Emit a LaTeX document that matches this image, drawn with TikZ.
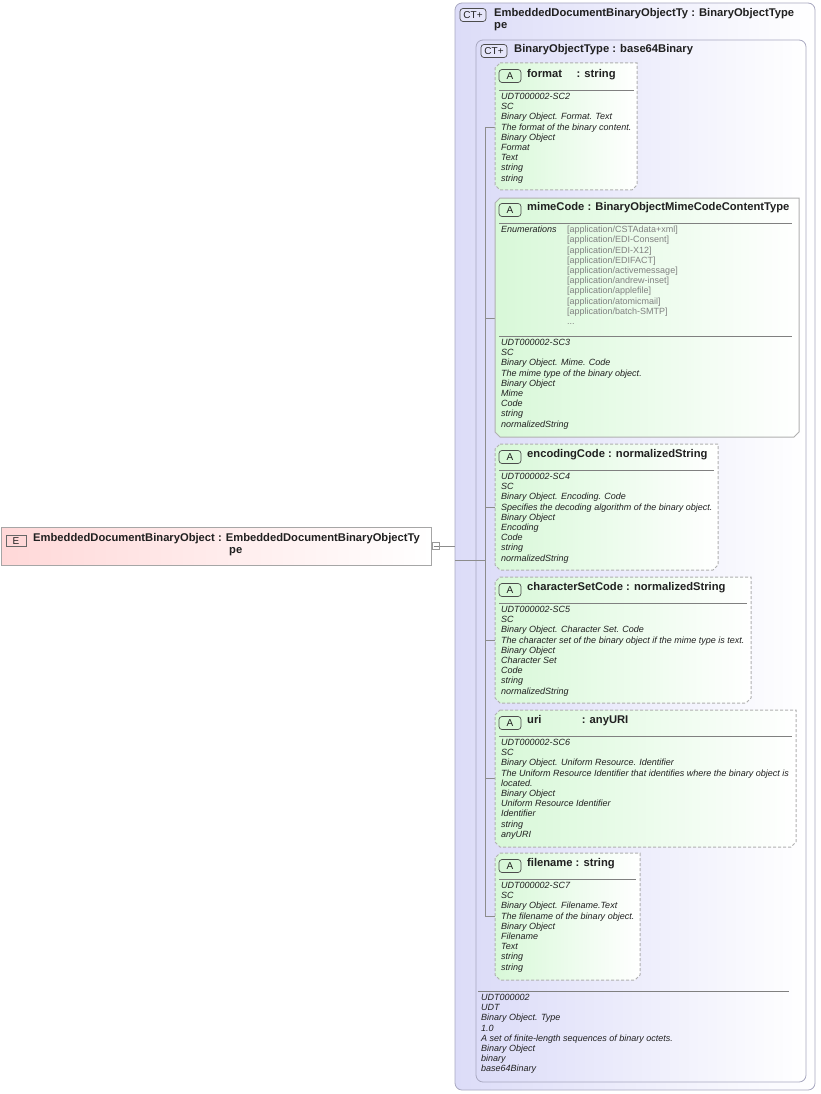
\documentclass[tikz,border=0pt]{standalone}
\usepackage{fontspec}
\setmainfont{Liberation Sans}
\usetikzlibrary{shapes.misc}
\definecolor{ctfill}{HTML}{DCDCF8}
\definecolor{ctline}{HTML}{A8A8C0}
\definecolor{afill}{HTML}{D8F8D8}
\definecolor{aline}{HTML}{B0B0B0}
\definecolor{efill}{HTML}{FFD8D8}
\definecolor{txt}{HTML}{202020}
\definecolor{enumc}{HTML}{808080}
\tikzset{
  ctbox/.style={draw=ctline,rounded corners=7pt,left color=ctfill,right color=white,line width=0.8pt},
  abox/.style={draw=aline,line width=1pt,left color=afill,right color=white},
  opt/.style={dash pattern=on 3pt off 2pt},
  hdr/.style={anchor=west,font=\fontsize{11.2}{12}\selectfont\bfseries,text=txt,inner sep=0pt},
  body/.style={anchor=north west,align=left,font=\fontsize{9}{10.2}\selectfont\itshape,text=txt,inner sep=0pt},
  enum/.style={anchor=north west,align=left,font=\fontsize{9}{10.2}\selectfont,text=enumc,inner sep=0pt},
  badge/.style={draw=black!70,rounded corners=3pt,line width=0.7pt,inner sep=0pt,minimum width=22pt,minimum height=13pt,font=\fontsize{10}{10}\selectfont,text=txt},
  conn/.style={draw=black!45,line width=0.6pt},
}
\newcommand{\attrbox}[5]{% x1 y1 x2 y2 style
  \path[abox,#5] (#1+5,#2) -- (#3,#2) -- (#3,#4-5) -- (#3-5,#4) -- (#1+5,#4) -- (#1,#4-5) -- (#1,#2+5) -- cycle;
}
\begin{document}
\begin{tikzpicture}[x=1pt,y=-1pt]
\useasboundingbox (0,0) rectangle (820,1094);
% outer CT
\path[ctbox] (455,3) rectangle (815,1090);
\node[badge,fill=ctfill!70,minimum width=26pt] (ct1) at (473,15) {CT\raisebox{0.2pt}{+}};
\node[hdr] (ct1t) at (494,14) {EmbeddedDocumentBinaryObjectTy : BinaryObjectType};
\node[hdr] at (494,27) {pe};
% inner CT
\path[ctbox] (476,40) rectangle (806,1082);
\node[badge,fill=ctfill!70,minimum width=26pt] (ct2) at (494,51) {CT\raisebox{0.2pt}{+}};
\node[hdr] (ct2t) at (514,50) {BinaryObjectType : base64Binary};
% element
\path[draw=black!35,line width=0.8pt,left color=efill,right color=white] (1,527) rectangle (431,565);
\node[badge,fill=efill,draw=black!60,rounded corners=0pt,minimum width=20pt,minimum height=11pt] (eb) at (16,541) {E};
\node[hdr] (el) at (33,539) {EmbeddedDocumentBinaryObject : EmbeddedDocumentBinaryObjectTy};
\node[hdr] at (229,552) {pe};
\node[draw=black!40,fill=white,minimum width=7pt,minimum height=7pt,inner sep=0pt] (minus) at (436,546) {};
\draw[black!50,line width=0.5pt] (433.5,546) -- (438.5,546);
\coordinate (ctin) at (455,546);
\draw[conn] (minus.east) -- (ctin);
\coordinate (v0) at (455,560);
\coordinate (v1) at (485,560);
\draw[conn] (v0) -- (v1);
\draw[conn] (485,127) -- (485,916);
\foreach \y in {127,318,507,640,778,916} \draw[conn] (485,\y) -- (495,\y);
% format
\attrbox{495}{63}{637}{190}{opt}
\node[badge,fill=afill] (a1) at (510,76) {A};
\node[hdr] at (527,75) {format\hspace{1.3em}: string};
\draw[black!50,line width=0.6pt] (499,90) -- (634,90);
\node[body] at (501,93) {UDT000002-SC2\\SC\\Binary Object. Format. Text\\The format of the binary content.\\Binary Object\\Format\\Text\\string\\string};
% mimeCode
\attrbox{495}{198}{799}{437}{}
\node[badge,fill=afill] (a2) at (510,210) {A};
\node[hdr] at (527,208) {mimeCode : BinaryObjectMimeCodeContentType};
\draw[black!50,line width=0.6pt] (499,223) -- (792,223);
\node[body] at (501,226) {Enumerations};
\node[enum] at (567,226) {{[application/CSTAdata+xml]}\\{}[application/EDI-Consent]\\{}[application/EDI-X12]\\{}[application/EDIFACT]\\{}[application/activemessage]\\{}[application/andrew-inset]\\{}[application/applefile]\\{}[application/atomicmail]\\{}[application/batch-SMTP]\\...};
\draw[black!50,line width=0.6pt] (499,336) -- (792,336);
\node[body] at (501,339) {UDT000002-SC3\\SC\\Binary Object. Mime. Code\\The mime type of the binary object.\\Binary Object\\Mime\\Code\\string\\normalizedString};
% encodingCode
\attrbox{495}{444}{718}{570}{opt}
\node[badge,fill=afill] (a3) at (510,457) {A};
\node[hdr] at (527,455) {encodingCode : normalizedString};
\draw[black!50,line width=0.6pt] (499,470) -- (714,470);
\node[body] at (501,473) {UDT000002-SC4\\SC\\Binary Object. Encoding. Code\\Specifies the decoding algorithm of the binary object.\\Binary Object\\Encoding\\Code\\string\\normalizedString};
% characterSetCode
\attrbox{495}{577}{751}{703}{opt}
\node[badge,fill=afill] (a4) at (510,590) {A};
\node[hdr] at (527,588) {characterSetCode : normalizedString};
\draw[black!50,line width=0.6pt] (499,603) -- (747,603);
\node[body] at (501,606) {UDT000002-SC5\\SC\\Binary Object. Character Set. Code\\The character set of the binary object if the mime type is text.\\Binary Object\\Character Set\\Code\\string\\normalizedString};
% uri
\attrbox{495}{710}{796}{847}{opt}
\node[badge,fill=afill] (a5) at (510,723) {A};
\node[hdr] at (527,721) {uri\hspace{3.6em}: anyURI};
\draw[black!50,line width=0.6pt] (499,736) -- (792,736);
\node[body] at (501,739) {UDT000002-SC6\\SC\\Binary Object. Uniform Resource. Identifier\\The Uniform Resource Identifier that identifies where the binary object is\\located.\\Binary Object\\Uniform Resource Identifier\\Identifier\\string\\anyURI};
% filename
\attrbox{495}{853}{640}{980}{opt}
\node[badge,fill=afill] (a6) at (510,866) {A};
\node[hdr] at (527,864) {filename : string};
\draw[black!50,line width=0.6pt] (499,879) -- (636,879);
\node[body] at (501,882) {UDT000002-SC7\\SC\\Binary Object. Filename.Text\\The filename of the binary object.\\Binary Object\\Filename\\Text\\string\\string};
% bottom
\draw[black!50,line width=0.6pt] (478,991) -- (789,991);
\node[body] at (481,994) {UDT000002\\UDT\\Binary Object. Type\\1.0\\A set of finite-length sequences of binary octets.\\Binary Object\\binary\\base64Binary};
\end{tikzpicture}
\end{document}
